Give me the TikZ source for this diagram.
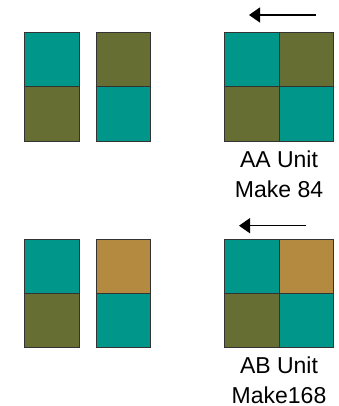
\documentclass[tikz,border=0pt]{standalone}
\usepackage{fontspec}
\setmainfont{Liberation Sans}
\usetikzlibrary{arrows.meta}
\definecolor{tealc}{HTML}{00978A}
\definecolor{olivec}{HTML}{676E33}
\definecolor{tanc}{HTML}{B38A3F}
\definecolor{edgec}{HTML}{333333}
\begin{document}
\begin{tikzpicture}[x=1pt,y=-1pt,
  sq/.style={draw=edgec,line width=1pt,minimum width=54.6pt,minimum height=54.4pt,inner sep=0pt,outer sep=0pt},
  lbl/.style={font=\fontsize{23}{30}\selectfont,align=center,inner sep=0pt},
  mv/.style={line width=1.2pt,-{Triangle[length=11pt,width=15pt]}}]
\useasboundingbox (0,0) rectangle (339,406);
% top row
\node[sq,fill=tealc]  (t1a) at (52,59.5) {};
\node[sq,fill=olivec] (t1b) at (52,114) {};
\node[sq,fill=olivec] (t2a) at (123.5,59.5) {};
\node[sq,fill=tealc]  (t2b) at (123.5,114) {};
\node[sq,fill=tealc]  (t3a) at (251.7,59.5) {};
\node[sq,fill=olivec] (t3b) at (306.3,59.5) {};
\node[sq,fill=olivec] (t3c) at (251.7,114) {};
\node[sq,fill=tealc]  (t3d) at (306.3,114) {};
\coordinate (ta0) at (316,15);
\coordinate (ta1) at (249,15);
\draw[mv] (ta0) -- (ta1);
\node[lbl] (tl) at (279,174) {AA Unit\\Make 84};
% bottom row
\node[sq,fill=tealc]  (b1a) at (52,266.2) {};
\node[sq,fill=olivec] (b1b) at (52,320.6) {};
\node[sq,fill=tanc]   (b2a) at (123.5,266.2) {};
\node[sq,fill=tealc]  (b2b) at (123.5,320.6) {};
\node[sq,fill=tealc]  (b3a) at (251.7,266.2) {};
\node[sq,fill=tanc]   (b3b) at (306.3,266.2) {};
\node[sq,fill=olivec] (b3c) at (251.7,320.6) {};
\node[sq,fill=tealc]  (b3d) at (306.3,320.6) {};
\coordinate (ba0) at (306,225.7);
\coordinate (ba1) at (239,225.7);
\draw[mv] (ba0) -- (ba1);
\node[lbl] (bl) at (279,380) {AB Unit\\Make168};
\end{tikzpicture}
\end{document}
